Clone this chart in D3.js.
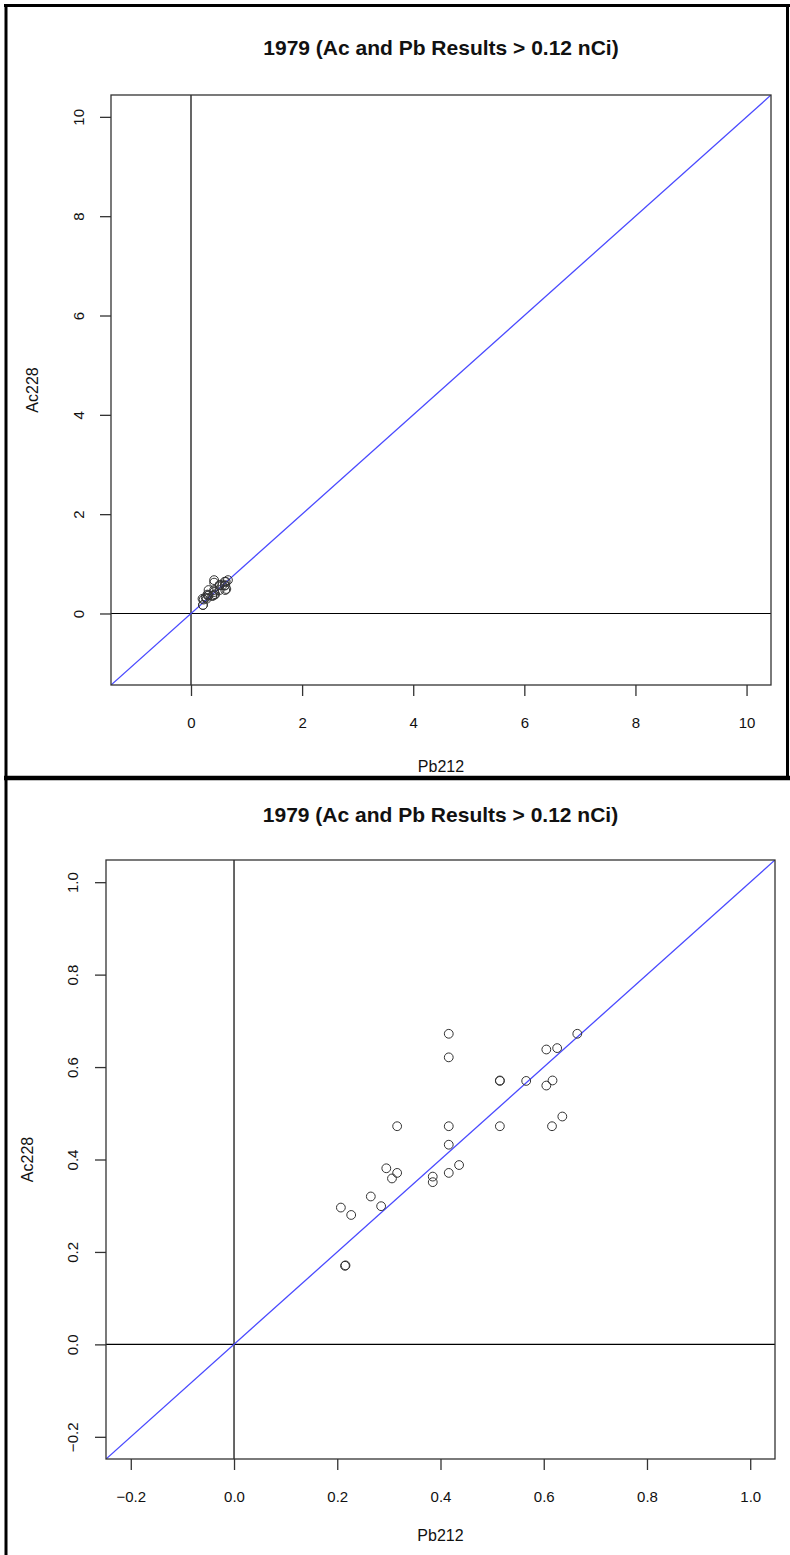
<!DOCTYPE html>
<html>
<head>
<meta charset="utf-8">
<script src="https://cdn.jsdelivr.net/npm/d3@7"></script>
<style>
  html, body { margin: 0; padding: 0; background: #fff; }
  svg { display: block; }
  text { font-family: "Liberation Sans", Arial, sans-serif; fill: #111; }
</style>
</head>
<body>
<script>
// Data (Pb212 vs Ac228, nCi)
const pb212 = [0.207, 0.227, 0.215, 0.216, 0.265, 0.285, 0.295, 0.306, 0.316, 0.316,
               0.385, 0.385, 0.416, 0.416, 0.416, 0.416, 0.416, 0.436, 0.515, 0.515,
               0.515, 0.566, 0.605, 0.626, 0.665, 0.605, 0.617, 0.616, 0.636];
const ac228 = [0.296, 0.280, 0.170, 0.171, 0.320, 0.299, 0.381, 0.359, 0.371, 0.472,
               0.363, 0.351, 0.672, 0.621, 0.472, 0.432, 0.371, 0.388, 0.570, 0.571,
               0.472, 0.570, 0.638, 0.641, 0.672, 0.560, 0.571, 0.472, 0.493];
const titleText = "1979 (Ac and Pb Results > 0.12 nCi)";
const xLabel = "Pb212";
const yLabel = "Ac228";
const topLimits = [-1, 10];
const topTicks = [0, 2, 4, 6, 8, 10];
const botLimits = [-0.2, 1.0];
const botTicks = [-0.2, 0.0, 0.2, 0.4, 0.6, 0.8, 1.0];

const W = 790, H = 1555;
const svg = d3.select("body").append("svg").attr("width", W).attr("height", H);

function extend(lim) { const d = (lim[1] - lim[0]) * 0.04; return [lim[0] - d, lim[1] + d]; }

function panel(cfg) {
  const g = svg.append("g");
  const x = d3.scaleLinear().domain(extend(cfg.lim)).range([cfg.left, cfg.right]);
  const y = d3.scaleLinear().domain(extend(cfg.lim)).range([cfg.bottom, cfg.top]);
  const clipId = "clip" + cfg.id;
  g.append("clipPath").attr("id", clipId).append("rect")
    .attr("x", cfg.left).attr("y", cfg.top)
    .attr("width", cfg.right - cfg.left).attr("height", cfg.bottom - cfg.top);
  const inner = g.append("g").attr("clip-path", `url(#${clipId})`);
  // zero lines
  inner.append("line").attr("x1", x(0)).attr("x2", x(0)).attr("y1", cfg.top).attr("y2", cfg.bottom)
    .attr("stroke", "#000").attr("stroke-width", 1.2);
  inner.append("line").attr("x1", cfg.left).attr("x2", cfg.right).attr("y1", y(0)).attr("y2", y(0))
    .attr("stroke", "#000").attr("stroke-width", 1.2);
  // y = x line
  const dom = x.domain();
  inner.append("line").attr("x1", x(dom[0])).attr("y1", y(dom[0])).attr("x2", x(dom[1])).attr("y2", y(dom[1]))
    .attr("stroke", "#4a4aff").attr("stroke-width", 1.3);
  // points
  inner.selectAll("circle").data(pb212.map((v, i) => [v, ac228[i]])).join("circle")
    .attr("cx", d => x(d[0])).attr("cy", d => y(d[1])).attr("r", 4.4)
    .attr("fill", "none").attr("stroke", "#333").attr("stroke-width", 1);
  // box
  g.append("rect").attr("x", cfg.left).attr("y", cfg.top)
    .attr("width", cfg.right - cfg.left).attr("height", cfg.bottom - cfg.top)
    .attr("fill", "none").attr("stroke", "#333").attr("stroke-width", 1.3);
  // axes
  const fmt = cfg.fmt;
  const xa = g.append("g").attr("transform", `translate(0,${cfg.bottom})`)
    .call(d3.axisBottom(x).tickValues(cfg.ticks).tickSize(11).tickFormat(fmt));
  xa.select(".domain").remove();
  xa.selectAll("line").attr("stroke", "#333").attr("stroke-width", 1.3);
  xa.selectAll("text").attr("font-size", 15).attr("dy", null).attr("y", 43)
    .style("font-family", "'Liberation Sans', Arial, sans-serif").attr("fill", "#111");
  const ya = g.append("g").attr("transform", `translate(${cfg.left},0)`)
    .call(d3.axisLeft(y).tickValues(cfg.ticks).tickSize(11).tickFormat(fmt));
  ya.select(".domain").remove();
  ya.selectAll("line").attr("stroke", "#333").attr("stroke-width", 1.3);
  ya.selectAll("text").attr("font-size", 15).attr("x", null).attr("dy", null)
    .attr("text-anchor", "middle")
    .attr("transform", `translate(${-cfg.ytlOff},0) rotate(-90)`)
    .attr("y", 5.5)
    .style("font-family", "'Liberation Sans', Arial, sans-serif").attr("fill", "#111");
  // titles
  g.append("text").attr("x", (cfg.left + cfg.right) / 2).attr("y", cfg.titleY)
    .attr("text-anchor", "middle").attr("font-size", 21).attr("font-weight", "bold").text(titleText);
  g.append("text").attr("x", (cfg.left + cfg.right) / 2).attr("y", cfg.xlabY)
    .attr("text-anchor", "middle").attr("font-size", 16).text(xLabel);
  g.append("text").attr("transform", `translate(${cfg.ylabX},${(cfg.top + cfg.bottom) / 2}) rotate(-90)`)
    .attr("text-anchor", "middle").attr("font-size", 16).text(yLabel);
}

panel({ id: 1, lim: topLimits, ticks: topTicks, left: 111, right: 771, top: 95, bottom: 685,
        fmt: d3.format("d"), ytlOff: 33, titleY: 55, xlabY: 772, ylabX: 38 });
panel({ id: 2, lim: botLimits, ticks: botTicks, left: 106, right: 775, top: 860, bottom: 1459,
        fmt: d3.format(".1f"), ytlOff: 34, titleY: 822, xlabY: 1541, ylabX: 33 });

// outer frame lines
svg.append("line").attr("x1", 6).attr("x2", 6).attr("y1", 4).attr("y2", H).attr("stroke", "#000").attr("stroke-width", 3);
svg.append("line").attr("x1", 4).attr("x2", W).attr("y1", 5.5).attr("y2", 5.5).attr("stroke", "#000").attr("stroke-width", 3);
svg.append("line").attr("x1", 787.5).attr("x2", 787.5).attr("y1", 4).attr("y2", 778).attr("stroke", "#000").attr("stroke-width", 3);
svg.append("line").attr("x1", 4).attr("x2", W).attr("y1", 778).attr("y2", 778).attr("stroke", "#000").attr("stroke-width", 4.5);
</script>
</body>
</html>
